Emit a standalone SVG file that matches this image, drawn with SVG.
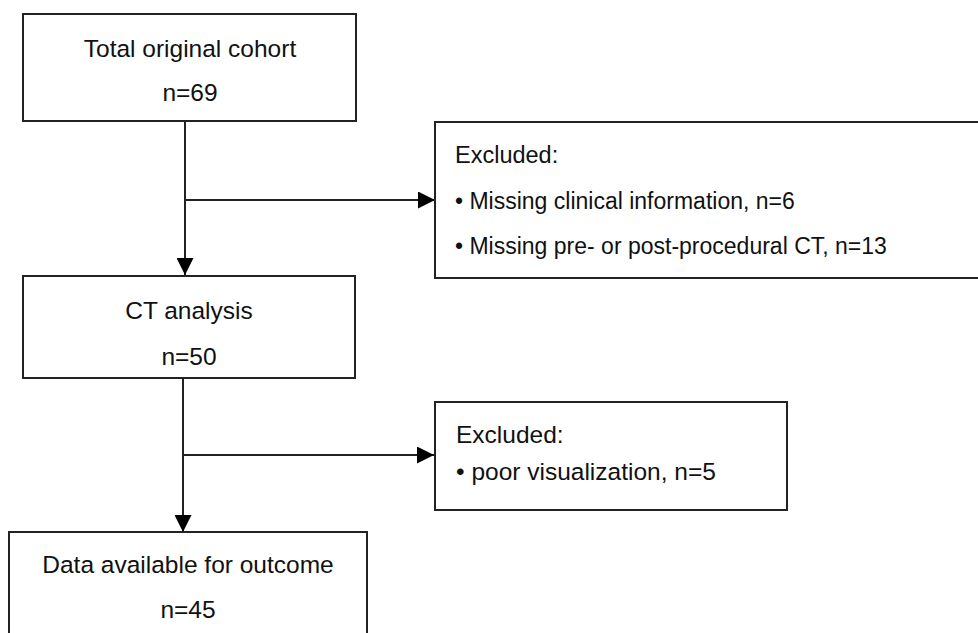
<svg xmlns="http://www.w3.org/2000/svg" width="978" height="633" viewBox="0 0 978 633">
<defs>
<style>
.box{fill:#fff;stroke:#222;stroke-width:2}
.t{font-family:"Liberation Sans",Arial,sans-serif;font-size:24.5px;fill:#111}
.s{font-size:23px}
.c{text-anchor:middle}
.ln{fill:none;stroke:#222;stroke-width:2}
</style>
<marker id="ah" markerWidth="17" markerHeight="17" viewBox="0 0 17 17" refX="17" refY="8.5" orient="auto" markerUnits="userSpaceOnUse">
<path d="M0,0 L17,8.5 L0,17 Z" fill="#000"/>
</marker>
</defs>
<rect width="978" height="633" fill="#fff"/>
<g id="connectors">
<line class="ln" x1="185" y1="121" x2="185" y2="275" marker-end="url(#ah)"/>
<line class="ln" x1="185" y1="200" x2="435" y2="200" marker-end="url(#ah)"/>
<line class="ln" x1="183" y1="378" x2="183" y2="532" marker-end="url(#ah)"/>
<line class="ln" x1="183" y1="455" x2="434" y2="455" marker-end="url(#ah)"/>
</g>
<g id="total">
<rect class="box" x="23" y="14" width="333" height="107"/>
<text class="t c" x="190" y="57">Total original cohort</text>
<text class="t c" x="190" y="101">n=69</text>
</g>
<g id="excluded1">
<rect class="box" x="435" y="122" width="560" height="156"/>
<text class="t s" x="455" y="163" style="font-size:23.5px">Excluded:</text>
<text class="t s" x="455" y="209">• Missing clinical information, n=6</text>
<text class="t s" x="455" y="254">• Missing pre- or post-procedural CT, n=13</text>
</g>
<g id="ct">
<rect class="box" x="23" y="276" width="332" height="102"/>
<text class="t c" x="189" y="319">CT analysis</text>
<text class="t c" x="189" y="365">n=50</text>
</g>
<g id="excluded2">
<rect class="box" x="435" y="402" width="352" height="108"/>
<text class="t" x="456" y="443">Excluded:</text>
<text class="t" x="456" y="480">• poor visualization, n=5</text>
</g>
<g id="outcome">
<rect class="box" x="9" y="532" width="358" height="120"/>
<text class="t c" x="188" y="573">Data available for outcome</text>
<text class="t c" x="188" y="618">n=45</text>
</g>
</svg>
